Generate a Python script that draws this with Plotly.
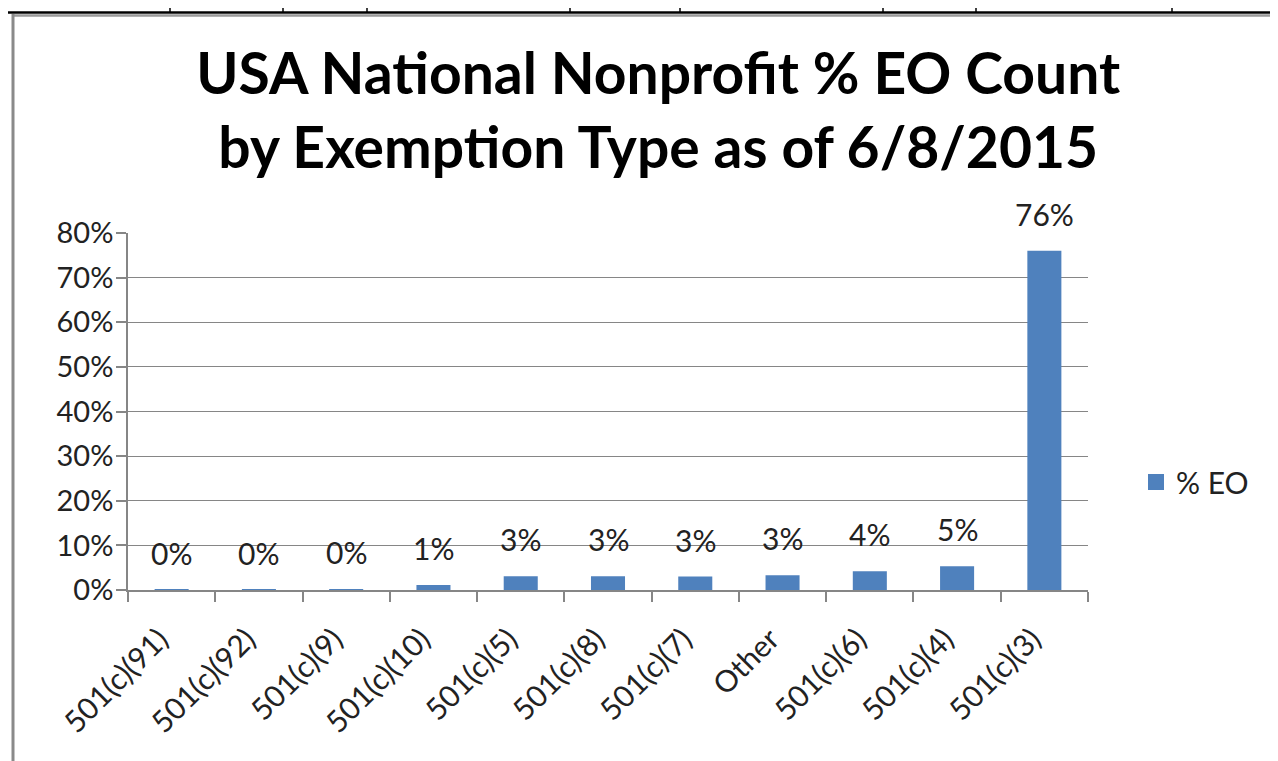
import plotly.graph_objects as go

categories = ["501(c)(91)", "501(c)(92)", "501(c)(9)", "501(c)(10)", "501(c)(5)",
              "501(c)(8)", "501(c)(7)", "Other", "501(c)(6)", "501(c)(4)", "501(c)(3)"]
pct_eo = [0.0005, 0.001, 0.002, 0.011, 0.031, 0.031, 0.030, 0.033, 0.042, 0.053, 0.760]
series_name = "% EO"
title_lines = ["USA National Nonprofit % EO Count", "by Exemption Type as of 6/8/2015"]

SCREEN_W, SCREEN_H = 1278, 761
OFF = 8  # page body margin
W, H = SCREEN_W - OFF, SCREEN_H - OFF
L, R, T, B = 128, 1088, 233, 590  # plot area in screen pixels
FONT = "Lato"
GRAY = "#868686"
BLUE = "#4F81BD"
TXT = "#222222"


def px(x):
    return (x - L) / (R - L)


def py(y):
    return (B - y) / (B - T)


fig = go.Figure()
fig.add_trace(go.Bar(
    x=categories, y=pct_eo, name=series_name,
    marker=dict(color=BLUE, line=dict(width=0)),
    showlegend=False,
))
# legend entry with a larger square swatch
fig.add_trace(go.Scatter(
    x=[None], y=[None], mode="markers", name=series_name,
    marker=dict(symbol="square", size=16, color=BLUE),
    showlegend=True, hoverinfo="skip",
))

for c, v in zip(categories, pct_eo):
    fig.add_annotation(x=c, y=v, text=f"{round(v * 100):.0f}%", showarrow=False,
                       yanchor="bottom", yshift=17,
                       font=dict(family=FONT, size=30, color=TXT))

fig.update_layout(
    width=W, height=H,
    margin=dict(l=L - OFF, r=SCREEN_W - R, t=T - OFF, b=SCREEN_H - B),
    paper_bgcolor="white", plot_bgcolor="white",
    bargap=0.61,
    title=dict(text="<br>".join(title_lines), x=0.512, xanchor="center",
               y=1 - 86 / H, yanchor="middle",
               font=dict(family=FONT, size=57, color="black", weight="bold")),
    legend=dict(x=px(1136), y=py(482), xanchor="left", yanchor="middle",
                font=dict(family=FONT, size=30, color=TXT),
                itemwidth=30, bgcolor="rgba(0,0,0,0)"),
    xaxis=dict(showgrid=False, showline=True, linecolor=GRAY, linewidth=1.5,
               ticks="outside", ticklen=10, tickcolor=GRAY, tickwidth=1.5,
               tickson="boundaries", tickangle=-45, ticklabelstandoff=18,
               ticklabelshift=-12,
               tickfont=dict(family=FONT, size=30, color=TXT)),
    yaxis=dict(range=[0, 0.8], dtick=0.1, tickformat=".0%",
               showgrid=True, gridcolor=GRAY, gridwidth=1.2,
               showline=True, linecolor=GRAY, linewidth=1.5,
               ticks="outside", ticklen=10, tickcolor=GRAY, tickwidth=1.5,
               ticklabelstandoff=-3, zeroline=False,
               tickfont=dict(family=FONT, size=29, color=TXT)),
)

# page border decorations (top table line and left frame)
shapes = [
    dict(type="line", xref="paper", yref="paper", x0=px(0), x1=px(SCREEN_W), y0=py(12.5), y1=py(12.5),
         line=dict(color="black", width=2.5)),
    dict(type="line", xref="paper", yref="paper", x0=px(13), x1=px(SCREEN_W), y0=py(15.5), y1=py(15.5),
         line=dict(color="#9a9a9a", width=2.5)),
    dict(type="line", xref="paper", yref="paper", x0=px(13), x1=px(13), y0=py(14), y1=py(SCREEN_H),
         line=dict(color="#8a8a8a", width=3)),
]
for xv in [170, 283, 367, 570, 680, 883, 976, 1172]:
    shapes.append(dict(type="line", xref="paper", yref="paper", x0=px(xv), x1=px(xv),
                       y0=py(0), y1=py(12), line=dict(color="black", width=1.5)))
fig.update_layout(shapes=shapes)

fig.write_html("out.html")
